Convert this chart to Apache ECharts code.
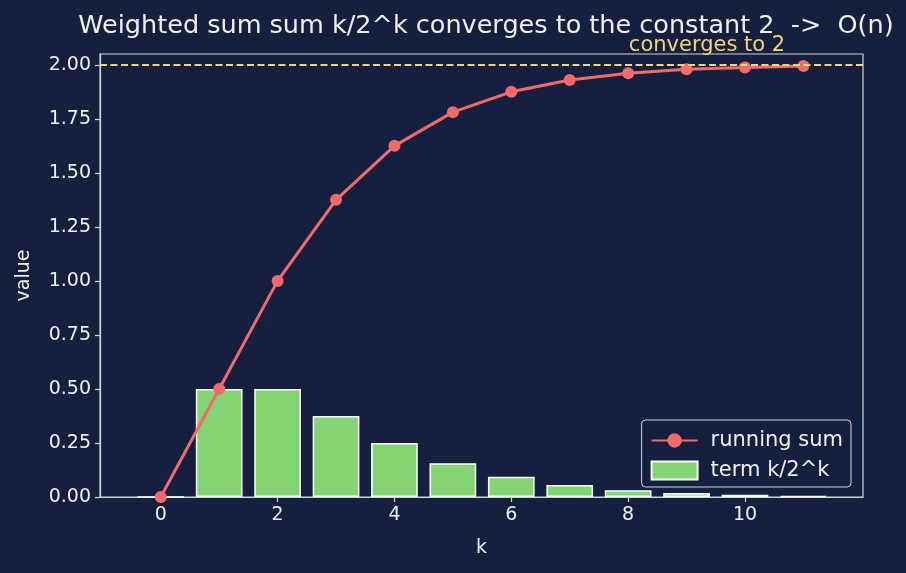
<!DOCTYPE html>
<html>
<head>
<meta charset="utf-8">
<script src="https://cdn.jsdelivr.net/npm/echarts@6/dist/echarts.min.js"></script>
<style>
  html, body { margin: 0; padding: 0; background: #16203e; }
  #main { width: 906px; height: 573px; }
</style>
</head>
<body>
<div id="main"></div>
<script>
// k values and the series
var ks = [0, 1, 2, 3, 4, 5, 6, 7, 8, 9, 10, 11]
var terms = [0, 0.5, 0.5, 0.375, 0.25, 0.156, 0.094, 0.055, 0.031, 0.018, 0.010, 0.005]
var runningSum = [0, 0.5, 1.0, 1.375, 1.625, 1.781, 1.875, 1.930, 1.961, 1.979, 1.988, 1.994]
var xTicks = [0, 2, 4, 6, 8, 10]
var yTicks = [0, 0.25, 0.5, 0.75, 1.0, 1.25, 1.5, 1.75, 2.0]
var limit = 2

var textColor = '#f0f0f0'
var spineColor = '#d0d4dc'
var font = 'DejaVu Sans'

var chart = echarts.init(document.getElementById('main'))

var option = {
  backgroundColor: '#16203e',
  animation: false,
  title: {
    text: 'Weighted sum sum k/2^k converges to the constant 2  ->  O(n)',
    left: 481,
    textAlign: 'center',
    top: 8,
    textStyle: { color: textColor, fontSize: 25.5, fontWeight: 'normal', fontFamily: font }
  },
  grid: {
    left: 100, right: 43, top: 54, bottom: 76,
    outerBoundsMode: 'none',
    show: true, borderColor: spineColor, borderWidth: 1.2
  },
  legend: {
    orient: 'vertical',
    right: 55,
    bottom: 86,
    padding: [10, 8, 6, 9],
    itemGap: 9,
    itemWidth: 46,
    itemHeight: 18,
    backgroundColor: '#16203e',
    borderColor: spineColor,
    borderWidth: 1,
    borderRadius: 4,
    textStyle: { color: textColor, fontSize: 21, fontFamily: font, padding: [0, 0, 0, 8] },
    data: [
      { name: 'running sum' },
      { name: 'term k/2^k', icon: 'rect' }
    ]
  },
  xAxis: {
    type: 'value',
    min: -1.04,
    max: 12.02,
    name: 'k',
    nameLocation: 'middle',
    nameGap: 42,
    nameTextStyle: { color: textColor, fontSize: 19, fontFamily: font },
    splitLine: { show: false },
    axisLine: { show: true, onZero: false, lineStyle: { color: spineColor, width: 1.2 } },
    axisTick: { show: true, length: 5, customValues: xTicks, lineStyle: { color: spineColor, width: 1.2 } },
    axisLabel: { customValues: xTicks, color: textColor, fontSize: 19, fontFamily: font, margin: 9 }
  },
  yAxis: {
    type: 'value',
    min: 0,
    max: 2.05,
    name: 'value',
    nameLocation: 'middle',
    nameGap: 66,
    nameTextStyle: { color: textColor, fontSize: 19, fontFamily: font },
    splitLine: { show: false },
    axisLine: { show: true, onZero: false, lineStyle: { color: spineColor, width: 1.2 } },
    axisTick: { show: true, length: 5, customValues: yTicks, lineStyle: { color: spineColor, width: 1.2 } },
    axisLabel: {
      customValues: yTicks,
      color: textColor, fontSize: 19, fontFamily: font, margin: 9,
      formatter: function (v) { return v.toFixed(2) }
    }
  },
  series: [
    {
      name: 'term k/2^k',
      type: 'bar',
      barWidth: 46.7,
      z: 2,
      itemStyle: { color: '#84d474', borderColor: '#ffffff', borderWidth: 1.5 },
      data: ks.map(function (k, i) { return [k, terms[i]] })
    },
    {
      name: 'running sum',
      type: 'line',
      z: 4,
      symbol: 'circle',
      symbolSize: 12,
      lineStyle: { color: '#f26b6b', width: 3 },
      itemStyle: { color: '#f26b6b' },
      data: ks.map(function (k, i) { return [k, runningSum[i]] }),
      markLine: {
        silent: true,
        symbol: 'none',
        label: { show: false },
        lineStyle: { color: '#f2d479', type: [7, 3.5], width: 2 },
        data: [{ yAxis: limit }]
      },
      markPoint: {
        silent: true,
        symbol: 'circle',
        symbolSize: 0,
        label: {
          show: true,
          formatter: 'converges to 2',
          color: '#f2d479',
          fontSize: 21,
          fontFamily: font,
          position: 'inside',
          offset: [0, -19]
        },
        data: [{ coord: [9.35, limit] }]
      }
    }
  ]
}

chart.setOption(option)
</script>
</body>
</html>
